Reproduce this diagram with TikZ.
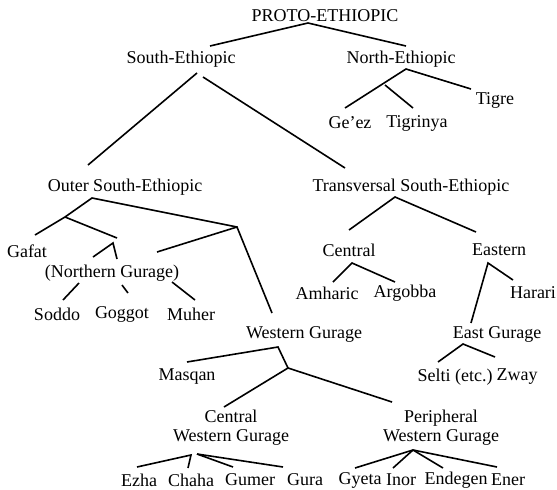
\documentclass[tikz,border=0pt]{standalone}
\usepackage{fontspec}
\setmainfont{Liberation Serif}
\begin{document}
\begin{tikzpicture}[x=1pt,y=-1pt,
  lang/.style={font=\fontsize{18}{19}\selectfont,inner sep=0pt,align=center},
  branch/.style={line width=1.6pt}]
\useasboundingbox (0,0) rectangle (557,490);

\node [lang] (proto) at (325,16) {PROTO-ETHIOPIC};
\node [lang] (south) at (181,59) {South-Ethiopic};
\node [lang] (north) at (401,59) {North-Ethiopic};
\node [lang] (tigre) at (495,100) {Tigre};
\node [lang] (geez) at (350,123) {Ge'ez};
\node [lang] (tigrinya) at (417,123) {Tigrinya};

\node [lang] (outer) at (125,187) {Outer South-Ethiopic};
\node [lang] (transv) at (411,187) {Transversal South-Ethiopic};
\node [lang] (gafat) at (27,251) {Gafat};
\node [lang] (northg) at (112,273) {(Northern Gurage)};
\node [lang] (soddo) at (57,314) {Soddo};
\node [lang] (goggot) at (122,314) {Goggot};
\node [lang] (muher) at (191,314) {Muher};
\node [lang] (central) at (349,250) {Central};
\node [lang] (eastern) at (499,250) {Eastern};
\node [lang] (amharic) at (327,293) {Amharic};
\node [lang] (argobba) at (405,293) {Argobba};
\node [lang] (harari) at (533,293) {Harari};

\node [lang] (westg) at (304,334) {Western Gurage};
\node [lang] (eastg) at (497,334) {East Gurage};
\node [lang] (masqan) at (187,377) {Masqan};
\node [lang] (selti) at (455,377) {Selti (etc.)};
\node [lang] (zway) at (517,377) {Zway};
\node [lang] (centralwg) at (231,428) {Central\\Western Gurage};
\node [lang] (periphwg) at (441,428) {Peripheral\\Western Gurage};

\node [lang] (ezha) at (139,480) {Ezha};
\node [lang] (chaha) at (191,480) {Chaha};
\node [lang] (gumer) at (250,480) {Gumer};
\node [lang] (gura) at (305,480) {Gura};
\node [lang] (gyeta) at (360,480) {Gyeta};
\node [lang] (inor) at (401,480) {Inor};
\node [lang] (endegen) at (456,480) {Endegen};
\node [lang] (ener) at (508,480) {Ener};

\coordinate (pe) at (308,23);
\coordinate (pe-s) at (210,46);
\coordinate (pe-n) at (406,46);
\coordinate (se-o1) at (197,73);
\coordinate (se-o2) at (88,165);
\coordinate (se-t1) at (203,77);
\coordinate (se-t2) at (345,168);
\coordinate (ne) at (406,69);
\coordinate (ne-ti) at (471,89);
\coordinate (ne-ge) at (345,108);
\coordinate (ne-j) at (385,85);
\coordinate (ne-tg) at (413,108);

\draw [branch] (pe-s)--(pe)--(pe-n);
\draw [branch] (se-o1)--(se-o2);
\draw [branch] (se-t1)--(se-t2);
\draw [branch] (ne-ge)--(ne)--(ne-ti);
\draw [branch] (ne-j)--(ne-tg);

\coordinate (os) at (92,198);
\coordinate (os-w) at (237,227);
\coordinate (os-j) at (65,217);
\coordinate (os-ga) at (35,235);
\coordinate (os-ng) at (117,238);
\coordinate (ng) at (113,243);
\coordinate (ng-l) at (93,257);
\coordinate (ng-r) at (117,259);
\coordinate (so1) at (79,283);
\coordinate (so2) at (63,300);
\coordinate (go1) at (122,285);
\coordinate (go2) at (128,293);
\coordinate (mu1) at (172,282);
\coordinate (mu2) at (195,300);
\coordinate (wj-l) at (157,252);
\coordinate (wj-d) at (272,313);

\draw [branch] (os-w)--(os)--(os-j)--(os-ga);
\draw [branch] (os-j)--(os-ng);
\draw [branch] (ng-l)--(ng)--(ng-r);
\draw [branch] (so1)--(so2);
\draw [branch] (go1)--(go2);
\draw [branch] (mu1)--(mu2);
\draw [branch] (wj-l)--(os-w)--(wj-d);

\coordinate (ts) at (395,197);
\coordinate (ts-c) at (349,230);
\coordinate (ts-e) at (476,232);
\coordinate (ce) at (352,263);
\coordinate (ce-am) at (333,282);
\coordinate (ce-ar) at (395,282);
\coordinate (ea) at (488,263);
\coordinate (ea-ha) at (513,280);
\coordinate (ea-eg) at (471,323);

\draw [branch] (ts-c)--(ts)--(ts-e);
\draw [branch] (ce-am)--(ce)--(ce-ar);
\draw [branch] (ea-ha)--(ea)--(ea-eg);

\coordinate (wg) at (278,347);
\coordinate (wg-m) at (187,362);
\coordinate (wg-j) at (288,368);
\coordinate (wg-c) at (224,407);
\coordinate (wg-p) at (392,402);
\coordinate (eg) at (463,344);
\coordinate (eg-s) at (438,362);
\coordinate (eg-z) at (495,357);

\draw [branch] (wg-m)--(wg)--(wg-j);
\draw [branch] (wg-c)--(wg-j)--(wg-p);
\draw [branch] (eg-s)--(eg)--(eg-z);

\coordinate (cw) at (191,455);
\coordinate (cw2) at (197,454);
\coordinate (cw-ez) at (137,467);
\coordinate (cw-ch) at (188,468);
\coordinate (cw-gm) at (233,467);
\coordinate (cw-gr) at (283,467);
\coordinate (pw) at (413,450);
\coordinate (pw-gy) at (355,468);
\coordinate (pw-in) at (393,468);
\coordinate (pw-en) at (443,468);
\coordinate (pw-er) at (497,467);

\draw [branch] (cw-ez)--(cw)--(cw-ch);
\draw [branch] (cw2)--(cw-gm);
\draw [branch] (cw2)--(cw-gr);
\draw [branch] (pw)--(pw-gy);
\draw [branch] (pw)--(pw-in);
\draw [branch] (pw)--(pw-en);
\draw [branch] (pw)--(pw-er);

\end{tikzpicture}
\end{document}
